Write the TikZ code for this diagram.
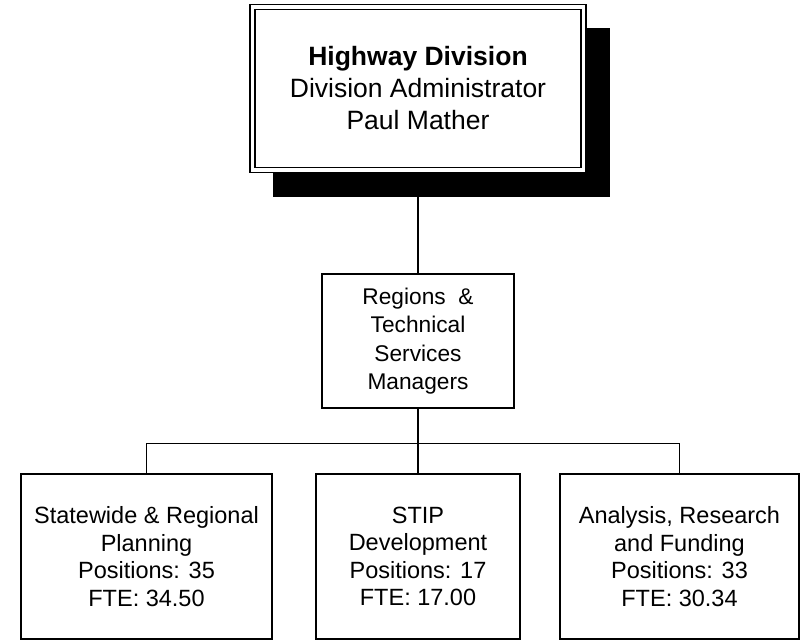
\documentclass[tikz,border=0pt]{standalone}
\usepackage{fontspec}
\setmainfont{Liberation Sans}

\tikzset{
  unitbox/.style={draw, line width=1.4pt, fill=white, inner sep=0pt, align=center,
    font=\fontsize{23.5}{27.5}\selectfont},
  link/.style={line width=1.4pt}
}

\begin{document}
\begin{tikzpicture}[x=1pt,y=-1pt]

        % page frame
        \useasboundingbox (0,0) rectangle (802,641);

        % ============================================
        % TOP – DIVISION HEAD WITH DROP SHADOW
        % ============================================

        \node[fill=black, inner sep=0pt, minimum width=337pt, minimum height=169pt]
              (hwyshadow) at (441.5,112.5) {};
        \node[draw, double, double distance=3.8pt, line width=1.4pt, fill=white,
              inner sep=0pt, minimum width=331pt, minimum height=163pt, align=center,
              font=\fontsize{26.5}{32}\selectfont]
              (hwy) at (418,88.5) {\textbf{Highway Division}\\Division Administrator\\Paul Mather};

        % ============================================
        % MIDDLE – MANAGERS
        % ============================================

        \node[unitbox, minimum width=192pt, minimum height=134pt,
              font=\fontsize{22.7}{28.5}\selectfont]
              (mgr) at (418,341) {Regions \ \&\\Technical\\Services\\Managers};

        % ============================================
        % BOTTOM – SECTIONS
        % ============================================

        \node[unitbox, minimum width=251pt, minimum height=165pt]
              (plan) at (146.5,556.5) {Statewide \& Regional\\Planning\\Positions: 35\\FTE: 34.50};
        \node[unitbox, minimum width=204pt, minimum height=165pt]
              (stip) at (418,556.5) {STIP\\Development\\Positions: 17\\FTE: 17.00};
        \node[unitbox, minimum width=239pt, minimum height=165pt]
              (fund) at (679.5,556.5) {Analysis, Research\\and Funding\\Positions: 33\\FTE: 30.34};

        % Connectors
        \draw[link] (hwyshadow.south -| hwy.south) -- (mgr.north);
        \draw[link] (mgr.south) -- (stip.north);
        \draw[link] (plan.north) -- ++(0,-30) -| (fund.north);

\end{tikzpicture}
\end{document}
